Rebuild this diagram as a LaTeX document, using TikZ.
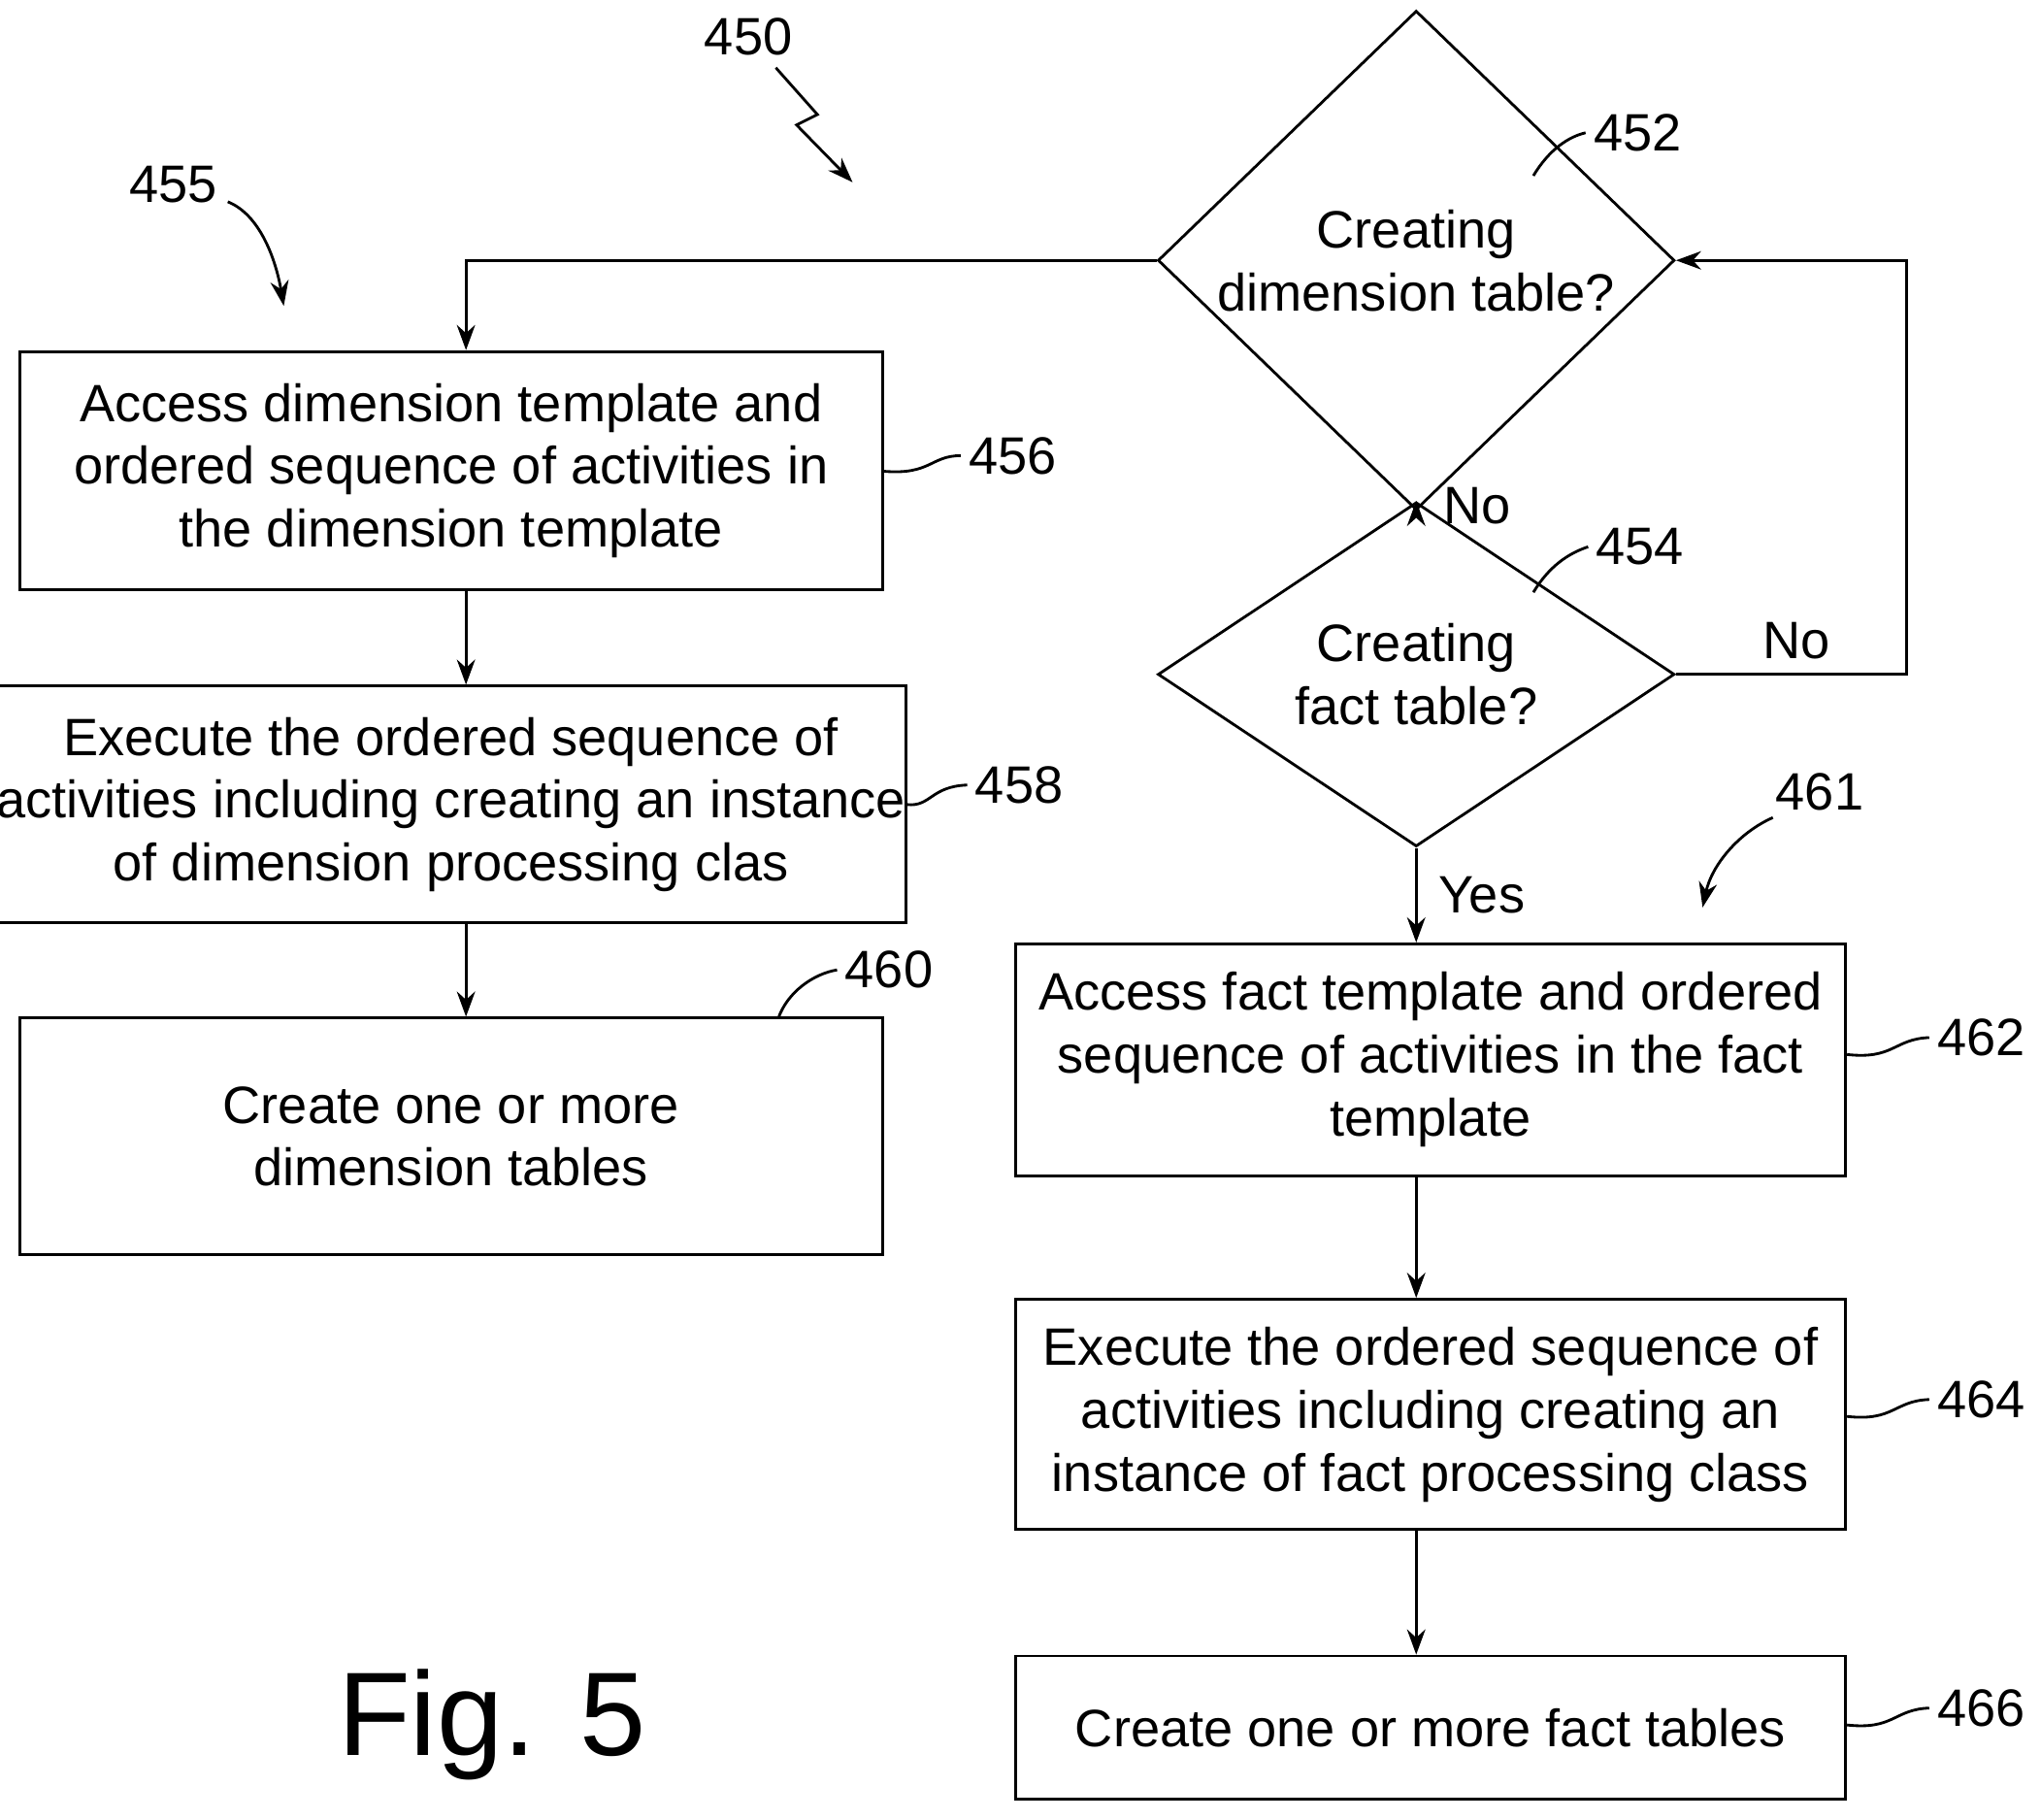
\documentclass[tikz,border=0pt]{standalone}
\usepackage{fontspec}
\setmainfont{Liberation Sans}
\usetikzlibrary{shapes.geometric,arrows.meta,decorations.pathmorphing}
\begin{document}
\begin{tikzpicture}[x=0.02cm,y=-0.02cm,
  box/.style={draw,line width=1.2pt,minimum width=13.26cm,align=center,font=\fontsize{23}{27.5}\selectfont,inner sep=0pt},
  rbox/.style={box,minimum width=12.76cm},
  dia/.style={draw,line width=1.2pt,diamond,minimum width=7.94cm,minimum height=4.48cm,align=center,font=\fontsize{23}{27.5}\selectfont,inner sep=0pt},
  lab/.style={font=\fontsize{23}{27.5}\selectfont},
  arr/.style={-{Stealth[length=11pt,width=8pt]},line width=1.2pt},
  ld/.style={line width=1.2pt}]
\useasboundingbox (0,0) rectangle (1568,1398);
\node[dia] (d452) at (1088,200) {Creating\\dimension table?};
\node[dia] (d454) at (1088,518) {Creating\\fact table?};
\node[box,minimum height=3.66cm] (b456) at (346.5,361.5) {Access dimension template and\\ordered sequence of activities in\\the dimension template};
\node[box,minimum height=3.64cm] (b458) at (346.5,618) {Execute the ordered sequence of\\activities including creating an instance\\of dimension processing clas};
\node[box,minimum height=3.64cm] (b460) at (346.5,873) {Create one or more\\dimension tables};
\node[rbox,minimum height=3.56cm] (b462) at (1099,814) {Access fact template and ordered\\sequence of activities in the fact\\template};
\node[rbox,minimum height=3.54cm] (b464) at (1099,1086.5) {Execute the ordered sequence of\\activities including creating an\\instance of fact processing class};
\node[rbox,minimum height=2.2cm] (b466) at (1099,1327) {Create one or more fact tables};
\coordinate (c1) at (358,200);
\coordinate (c2) at (1465,518);
\coordinate (c3) at (1465,200);
\draw[arr] (d452.west) -- (c1) -- (b456.north -| c1);
\draw[arr] (b456.south -| c1) -- (b458.north -| c1);
\draw[arr] (b458.south -| c1) -- (b460.north -| c1);
\draw[arr] (d452.south) -- (d454.north) node[lab,midway,right=8pt] {No};
\draw[arr] (d454.east) -- (c2) -- (c3) -- (d452.east);
\node[lab] (no2) at (1380,492) {No};
\draw[arr] (d454.south) -- (b462.north -| d454.south) node[lab,midway,right=6pt] {Yes};
\draw[arr] (b462.south -| d454.south) -- (b464.north -| d454.south);
\draw[arr] (b464.south -| d454.south) -- (b466.north -| d454.south);
% reference numerals
\node[lab] (n450) at (575,28) {450};
\node[lab] (n455) at (133,142) {455};
\node[lab] (n461) at (1398,608) {461};
\node[lab] (n452) at (1258,102) {452};
\node[lab] (n454) at (1260,420) {454};
\node[lab] (n456) at (778,350) {456};
\node[lab] (n458) at (783,603) {458};
\node[lab] (n460) at (683,745) {460};
\node[lab] (n462) at (1522,797) {462};
\node[lab] (n464) at (1522,1075) {464};
\node[lab] (n466) at (1522,1312) {466};
\node[font=\fontsize{52}{60}\selectfont] (fig) at (378,1325) {Fig. 5};
\coordinate (t450) at (655,140);
\coordinate (t455) at (218,235);
\coordinate (t461) at (1308,697);
\draw[arr] (596,52) -- (628,88) -- (612,96) -- (t450);
\draw[arr] (175,155) .. controls (200,165) and (212,200) .. (t455);
\draw[arr] (1362,628) .. controls (1335,640) and (1315,665) .. (t461);
\draw[ld] (1178,135) .. controls (1190,115) and (1205,105) .. (n452.west);
\draw[ld] (1178,455) .. controls (1190,435) and (1205,425) .. (n454.west);
\draw[ld] (b456.east |- 0,362) .. controls (715,365) and (715,350) .. (n456.west);
\draw[ld] (b458.east |- 0,618) .. controls (715,620) and (715,604) .. (n458.west);
\draw[ld] (598,782) .. controls (605,762) and (625,748) .. (n460.west);
\draw[ld] (b462.east |- 0,810) .. controls (1455,814) and (1455,798) .. (n462.west);
\draw[ld] (b464.east |- 0,1088) .. controls (1455,1092) and (1455,1076) .. (n464.west);
\draw[ld] (b466.east |- 0,1325) .. controls (1455,1329) and (1455,1313) .. (n466.west);
\end{tikzpicture}
\end{document}
